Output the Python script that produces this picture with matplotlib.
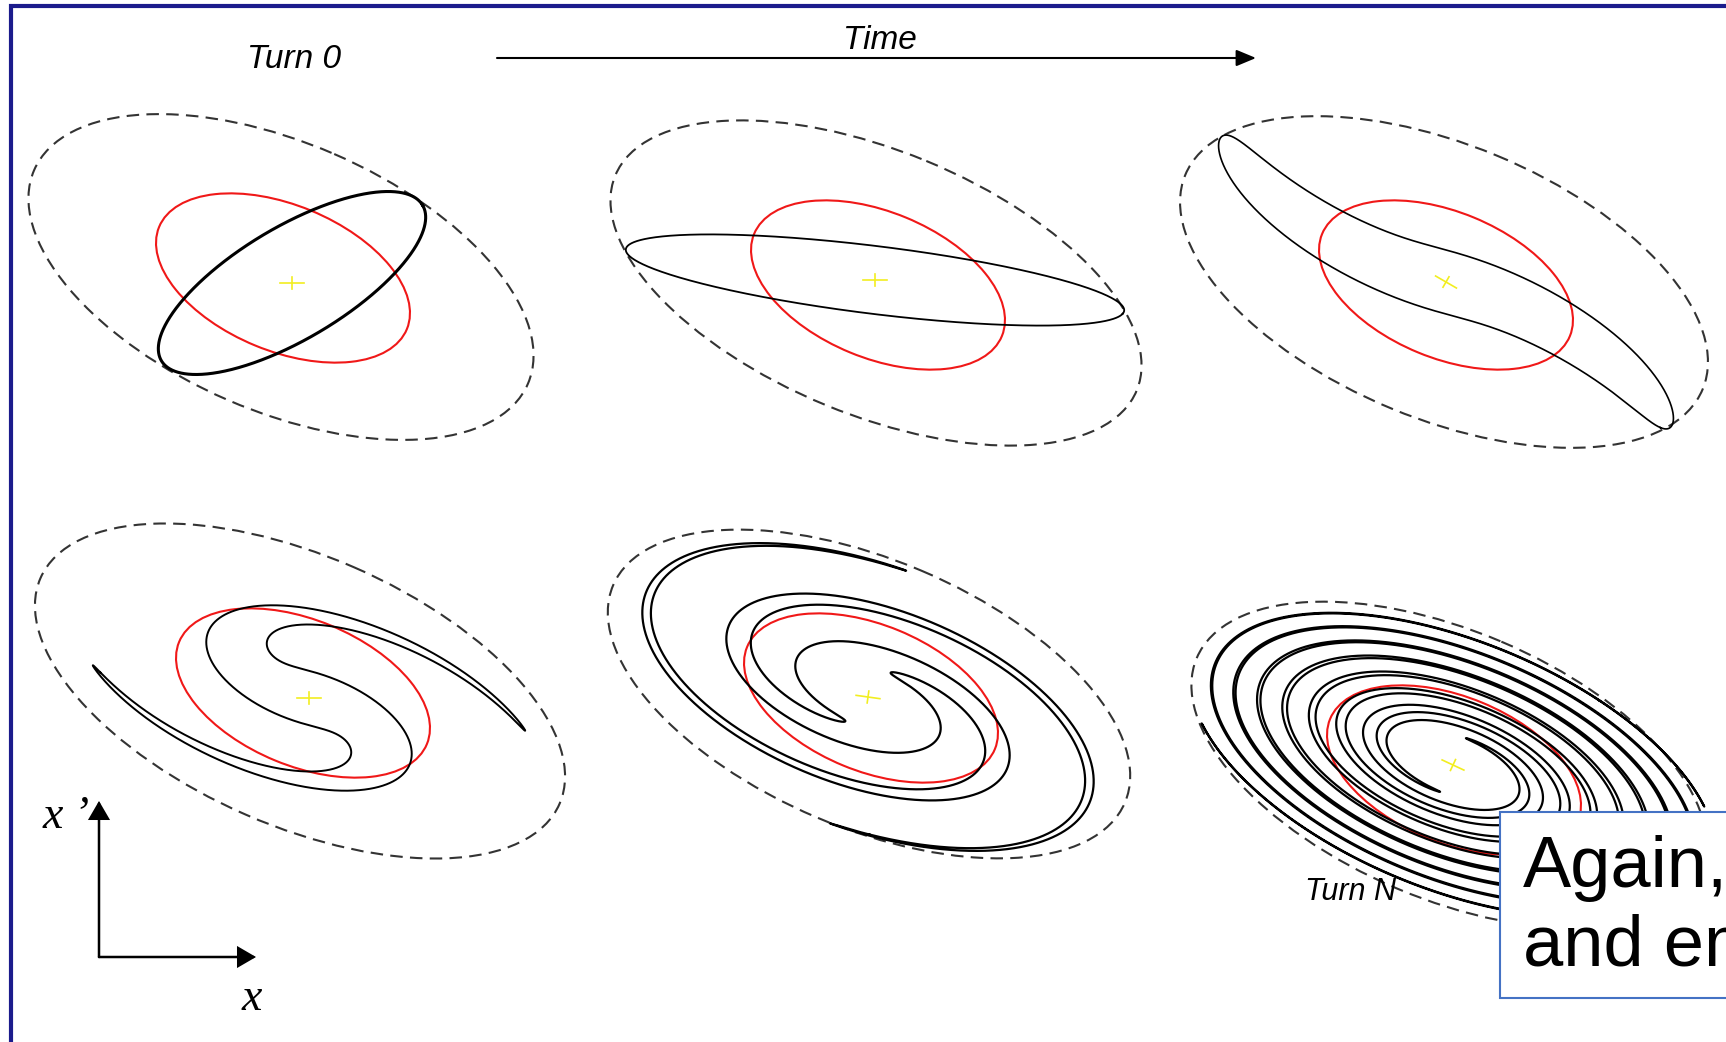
import numpy as np
import matplotlib.pyplot as plt
from matplotlib.patches import Ellipse, Rectangle

W, H = 1726, 1042

# six snapshots: top row left->right, then bottom row left->right
beam_cx = [292, 875, 1446, 309, 868, 1453]
beam_cy = [283, 280, 282, 698, 697, 765]
phase_shift = [0, 41.4, 72.9, 110.5, 250.7, 529.6]  # deg, rotation at unit amplitude
phase_log = [0, 0, 15, 40, 150, 350]                # deg per unit ln(r)
phase_sq = [0, 0, 4, 28, 53.2, 230]                 # deg per unit r^2
beam_scale = [1, 1, 1, 0.85, 1, 0.98]
black_lw = [2.2, 1.3, 1.2, 1.4, 1.6, 1.6]
cross_ang = [0, 0, 30, 0, 8, 25]

red_cx = [283, 878, 1446, 303, 871, 1454]
red_cy = [278, 285, 285, 693, 698, 770]
red_a, red_b, red_ang = 134, 73, 22.4

dash_cx = [281, 876, 1444, 300, 869, 1449]
dash_cy = [277, 283, 282, 691, 694, 765]
dash_a = [269, 282, 280, 283, 278, 274]
dash_b = [134, 132, 137, 135, 134, 134]
dash_ang = [23.4, 22.4, 22.5, 23.5, 23, 23]

# injected (mismatched) beam at turn 0, and the matched frame
beam0_a, beam0_b, beam0_ang = 152, 56, -30.8
match_a, match_b, match_ang = 140, 65, 22.5


def filament(i, n=80000):
    t = np.linspace(0, 2*np.pi, n)
    q = np.radians(beam0_ang - match_ang)
    ex, ey = beam0_a*np.cos(t), beam0_b*np.sin(t)
    u = (ex*np.cos(q) - ey*np.sin(q))/match_a
    v = (ex*np.sin(q) + ey*np.cos(q))/match_b
    r = np.hypot(u, v)
    dphi = phase_shift[i] + phase_log[i]*np.log(r) + phase_sq[i]*(r**2 - 1)
    psi = np.arctan2(v, u) + np.radians(dphi)
    u = beam_scale[i]*r*np.cos(psi)*match_a
    v = beam_scale[i]*r*np.sin(psi)*match_b
    m = np.radians(match_ang)
    return (beam_cx[i] + u*np.cos(m) - v*np.sin(m),
            beam_cy[i] + u*np.sin(m) + v*np.cos(m))


fig = plt.figure(figsize=(W/100, H/100), dpi=100)
ax = fig.add_axes([0, 0, 1, 1])
ax.set_xlim(0, W)
ax.set_ylim(H, 0)
ax.axis('off')

for i in range(6):
    ax.add_patch(Ellipse((dash_cx[i], dash_cy[i]), 2*dash_a[i], 2*dash_b[i],
                         angle=dash_ang[i], fill=False, ec='#333333', lw=1.5,
                         ls=(0, (6, 3.5))))
    x, y = filament(i)
    ax.plot(x, y, color='black', lw=black_lw[i], solid_joinstyle='round')
    ax.add_patch(Ellipse((red_cx[i], red_cy[i]), 2*red_a, 2*red_b, angle=red_ang,
                         fill=False, ec='#f01818', lw=1.5))
    c = np.radians(cross_ang[i])
    for hx, hy in [(12, 0), (0, 6)]:
        dx = hx*np.cos(c) - hy*np.sin(c)
        dy = hx*np.sin(c) + hy*np.cos(c)
        ax.plot([beam_cx[i]-dx, beam_cx[i]+dx], [beam_cy[i]-dy, beam_cy[i]+dy],
                color='#f2ee20', lw=1.2)

# frame of the slide
ax.plot([10.5, 10.5, W+20], [H+20, 5.5, 5.5], color='#1b1b8c', lw=3,
        solid_joinstyle='miter', clip_on=False)

sans = 'Liberation Sans'
ax.text(293.7, 68, 'Turn 0', fontsize=24, style='italic', family=sans,
        ha='center', va='baseline')
ax.text(880, 49, 'Time', fontsize=24, style='italic', family=sans,
        ha='center', va='baseline')
ax.annotate('', xy=(1256, 58), xytext=(497, 58),
            arrowprops=dict(arrowstyle='-|>,head_length=0.6,head_width=0.25',
                            lw=1.5, color='black', shrinkA=0, shrinkB=0,
                            mutation_scale=20))
ax.text(1350, 900, 'Turn N', fontsize=22, style='italic', family=sans,
        ha='center', va='baseline')

# phase-space axes
for tip in [(99, 801), (256, 957)]:
    ax.annotate('', xy=tip, xytext=(99, 957),
                arrowprops=dict(arrowstyle='-|>,head_length=0.55,head_width=0.32',
                                lw=1.8, color='black', shrinkA=0, shrinkB=0,
                                mutation_scale=20, joinstyle='miter'))
ax.text(43, 828, 'x ’', fontsize=33, style='italic', family='Liberation Serif',
        ha='left', va='baseline')
ax.text(242, 1010, 'x', fontsize=33, style='italic', family='Liberation Serif',
        ha='left', va='baseline')

# callout box (cut by the right edge)
ax.add_patch(Rectangle((1500, 812), 400, 186, fc='white', ec='#4472c4', lw=1.5,
                       zorder=5))
ax.text(1523, 887, 'Again,', fontsize=52, family=sans, ha='left',
        va='baseline', zorder=6)
ax.text(1523, 965, 'and emittance', fontsize=52, family=sans, ha='left',
        va='baseline', zorder=6)

fig.savefig('out.png', dpi=100)
